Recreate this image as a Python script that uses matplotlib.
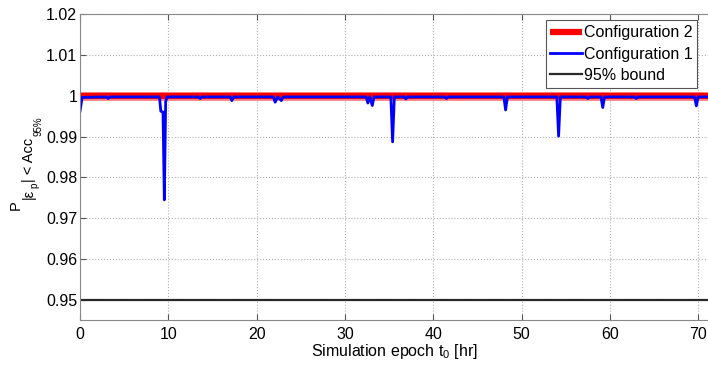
import matplotlib
matplotlib.use("Agg")
import matplotlib.pyplot as plt
from matplotlib.ticker import FormatStrFormatter
from matplotlib.transforms import IdentityTransform

plt.rcParams['font.family'] = ['Liberation Sans', 'DejaVu Sans']
plt.rcParams['mathtext.fontset'] = 'custom'
plt.rcParams['mathtext.rm'] = 'Liberation Sans'
plt.rcParams['mathtext.it'] = 'Liberation Sans:italic'

# Configuration 2 (red) - stays at 1
t_cfg2 = [0.0, 71.2]
p_cfg2 = [0.9999, 0.9999]

# Configuration 1 (blue)
t_cfg1 = [0.0, 0.25, 3.0, 3.2, 3.4, 9.0, 9.15, 9.4, 9.55, 9.7, 9.85,
          13.4, 13.6, 13.8, 17.0, 17.2, 17.4, 21.9, 22.1, 22.4, 22.8, 23.0,
          32.4, 32.6, 32.8, 33.1, 33.3, 35.2, 35.4, 35.6, 36.7, 36.9, 37.1,
          41.3, 41.5, 41.7, 48.0, 48.2, 48.4, 54.0, 54.2, 54.4, 57.3, 57.5,
          57.7, 59.0, 59.2, 59.4, 62.8, 63.0, 63.2, 69.6, 69.8, 70.0, 71.2]
p_cfg1 = [0.9962, 0.9996, 0.9997, 0.9993, 0.9997, 0.9997, 0.9962, 0.9960,
          0.9745, 0.9985, 0.9997,
          0.9997, 0.9993, 0.9997, 0.9997, 0.9988, 0.9997, 0.9997, 0.9984,
          0.9997, 0.9988, 0.9997,
          0.9997, 0.9982, 0.9997, 0.9976, 0.9997, 0.9997, 0.9887, 0.9997,
          0.9997, 0.9992, 0.9997,
          0.9997, 0.9993, 0.9997, 0.9997, 0.9965, 0.9997, 0.9997, 0.9901,
          0.9997, 0.9997, 0.9993,
          0.9997, 0.9997, 0.9971, 0.9997, 0.9997, 0.9993, 0.9997, 0.9997,
          0.9975, 0.9997, 0.9997]

bound_t = [0.0, 71.2]
bound_p = [0.95, 0.95]

fig = plt.figure(figsize=(7.08, 3.65), dpi=100)
ax = fig.add_axes([0.113, 0.1233, 0.888, 0.8384])

ax.plot(t_cfg2, p_cfg2, color=(1, 0.55, 0.55), lw=6.5, solid_capstyle='butt')
ax.plot(t_cfg2, p_cfg2, color='red', lw=4.5, solid_capstyle='butt', label='Configuration 2')
ax.plot(t_cfg1, p_cfg1, color='blue', lw=2.0, label='Configuration 1')
ax.plot(bound_t, bound_p, color='#2a2a2a', lw=1.6, label='95% bound')

ax.set_xlim(0, 71.2)
ax.set_ylim(0.9451, 1.02)
ax.set_xticks(range(0, 71, 10))
ax.set_yticks([0.95, 0.96, 0.97, 0.98, 0.99, 1.0, 1.01, 1.02])
ax.yaxis.set_major_formatter(FormatStrFormatter('%g'))
ax.grid(True, color='#b0b0b0', linestyle=':', linewidth=0.8)
ax.tick_params(direction='in', top=True, right=False, labelsize=11.5,
               color='#555555', length=4)
ax.tick_params(axis='x', pad=5)
ax.tick_params(axis='y', pad=2)
for s in ax.spines.values():
    s.set_color('#888888')
ax.spines['right'].set_visible(False)

ax.set_xlabel(r'Simulation epoch t$_0$ [hr]', fontsize=11.5, labelpad=0)

leg = ax.legend(loc='upper right', fontsize=11.5, fancybox=False, framealpha=1,
                edgecolor='#555555', handlelength=2.0, handletextpad=0.1,
                borderaxespad=0.4, borderpad=0.3, labelspacing=0.4,
                bbox_to_anchor=(0.992, 1.0))
leg.get_frame().set_linewidth(0.8)

# y label in MATLAB style, built from rotated pieces (pixel coordinates)
H = 365
pieces = [('P', 20, 10.5), ('|ε', 33, 10.5), ('p', 37, 7),
          ('| < Acc', 33, 10.5), ('95%', 41, 7)]
renderer = fig.canvas.get_renderer()
y = H - 210
for txt, xb, size in pieces:
    t = fig.text(xb, y, txt, rotation=90, rotation_mode='anchor', ha='left',
                 va='baseline', fontsize=size, transform=IdentityTransform())
    bb = t.get_window_extent(renderer)
    y = bb.y1 + 1

fig.savefig('out.png', dpi=100)
